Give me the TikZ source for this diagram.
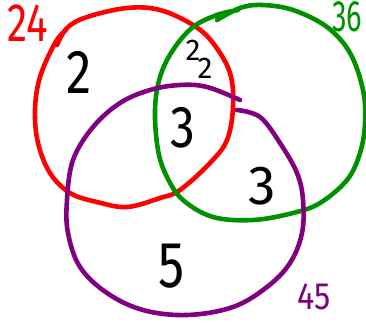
\documentclass[tikz,border=0pt]{standalone}
\usepackage{fontspec}
\setmainfont{Fira Sans}
\definecolor{vred}{RGB}{255,0,0}
\definecolor{vgreen}{RGB}{0,145,0}
\definecolor{vpurple}{RGB}{128,0,128}
\tikzset{
  ring/.style={line width=4.6pt, line cap=round, line join=round},
  num/.style={inner sep=0pt, text=black},
}
\newcommand{\fs}[1]{\fontsize{#1}{#1}\selectfont}
\begin{document}
\begin{tikzpicture}[x=1pt,y=-1pt]
\useasboundingbox (0,0) rectangle (366,322);
% red set
\draw[ring, vred] plot[smooth, tension=0.6] coordinates {(57,45) (67,28) (87,17) (127,8) (160,10) (193,25) (213,43) (230,73) (233,107) (227,140) (210,163) (180,190) (160,198) (127,207) (97,202) (70,193) (50,173) (38,143) (35,110) (40,77) (55,43) (66,30)};
% green set
\draw[ring, vgreen] plot[smooth, tension=0.6] coordinates {(217,20) (240,8) (262,5) (293,10) (327,27) (350,53) (363,90) (365,123) (360,153) (347,180) (320,203) (293,213) (253,220) (213,217) (183,200) (167,177) (158,150) (155,110) (160,77) (173,50) (193,27) (217,15) (238,10)};
% purple set
\draw[ring, vpurple] plot[smooth, tension=0.6] coordinates {(237,110) (260,117) (280,143) (297,173) (303,200) (302,233) (290,263) (267,287) (233,307) (187,315) (143,310) (107,293) (80,267) (68,233) (67,200) (73,160) (93,127) (120,103) (150,90) (180,85) (207,87) (240,100)};
% set labels
\node[num, text=vred, xscale=0.75] (l24) at (28,23) {\fs{54}24};
\node[num, text=vgreen, anchor=west, xscale=0.66] (l36) at (332,17) {\fs{44}36};
\node[num, text=vpurple, xscale=0.85] (l45) at (314,297) {\fs{38}45};
% region counts
\node[num, xscale=0.82] (rA) at (79,72) {\fs{62}2};
\node[num] (rAB1) at (193,50) {\fs{30}2};
\node[num] (rAB2) at (205,68) {\fs{30}2};
\node[num, xscale=0.84] (rABC) at (183,128) {\fs{59}3};
\node[num] (rBC) at (262,186) {\fs{55}3};
\node[num, xscale=0.8] (rC) at (172,266) {\fs{65}5};
\end{tikzpicture}
\end{document}
